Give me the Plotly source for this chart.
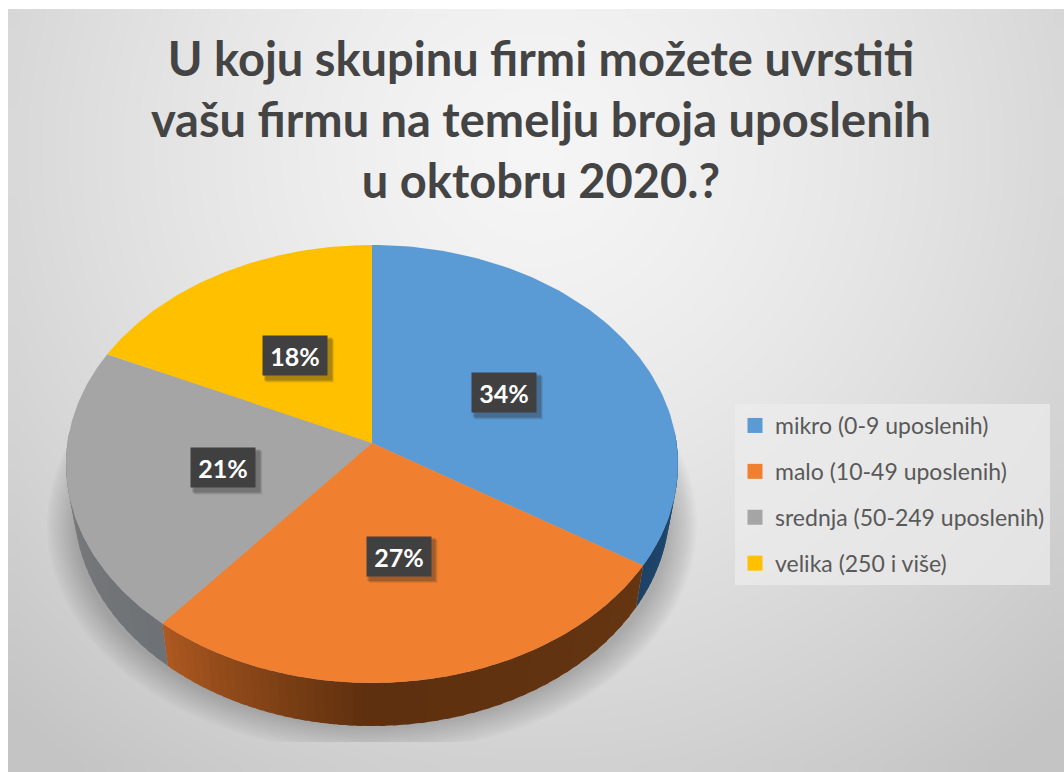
import numpy as np
import plotly.graph_objects as go

categories = ["mikro (0-9 uposlenih)", "malo (10-49 uposlenih)", "srednja (50-249 uposlenih)", "velika (250 i više)"]
shares = [34, 27, 21, 18]
title_lines = ["U koju skupinu firmi možete uvrstiti", "vašu firmu na temelju broja uposlenih", "u oktobru 2020.?"]

face_colors = ["#5b9bd5", "#f07f30", "#a5a5a5", "#ffc000"]
FONT = "Lato"

W, H = 1064, 772
CX, CY, RX, RY = 372, 464, 306, 219      # top face ellipse (pixels)
BX, BY, BRX, BRY = 372, 505, 298, 221    # bottom rim ellipse
A = -21 / 219                            # perspective shift of pie apex


def project(u, v):
    """Perspective map of the unit disc onto the top ellipse."""
    d = 1 + A * v
    return CX + RX * u * np.sqrt(1 - A * A) / d, CY + RY * (v + A) / d


fractions = np.cumsum([0] + shares) / sum(shares)
traces = []

# background gradient
nx, ny = 60, 50
gx = 8 + (W - 8) * (np.arange(nx) + 0.5) / nx
gy = 9 + (H - 9) * (np.arange(ny) + 0.5) / ny
GX, GY = np.meshgrid(gx, gy)
dist = np.minimum(1.2, np.sqrt(((GX - 536) / 640) ** 2 + ((GY - 150) / 640) ** 2))
traces.append(go.Heatmap(x=gx, y=gy, z=245 - 38 * dist ** 1.4, zmin=0, zmax=255, zsmooth="best",
                         colorscale=[[0, "#000000"], [1, "#ffffff"]], showscale=False, hoverinfo="skip"))

# soft shadow under the pie
phi = np.radians(np.linspace(0, 360, 181))
for grow in np.linspace(0, -28, 15):
    sx = 372 + (325 + grow) * np.cos(phi)
    sy = np.minimum(525 + (228 + grow) * np.sin(phi), 742)
    traces.append(go.Scatter(x=sx, y=sy, mode="lines", line=dict(width=0), fill="toself",
                             fillcolor="rgba(50,50,50,0.02)", hoverinfo="skip", showlegend=False))


# rim strips
def lerp(c0, c1, t):
    return "rgb(%d,%d,%d)" % tuple(a + (b - a) * t for a, b in zip(c0, c1))


def boundary_phi(f):
    t = 2 * np.pi * f
    x, y = project(np.sin(t), -np.cos(t))
    return np.arctan2((y - CY) / RY, (x - CX) / RX)


p1, p2 = boundary_phi(fractions[1]), boundary_phi(fractions[2])
segments = [
    (-0.15, p1, (32, 78, 120), (30, 66, 102)),
    (p1, np.pi / 2, (102, 54, 18), (94, 48, 15)),
    (np.pi / 2, p2, (94, 48, 15), (172, 88, 32)),
    (p2, np.pi + 0.15, (110, 114, 118), (125, 125, 125)),
]
for a, b, c0, c1 in segments:
    edges = np.linspace(a, b, 25)
    for i in range(24):
        end = edges[i + 1] + (0.02 if i < 23 else 0)
        t = np.linspace(edges[i], end, 6)
        xs = np.r_[CX + RX * np.cos(t), (BX + BRX * np.cos(t))[::-1]]
        ys = np.r_[CY + RY * np.sin(t), (BY + BRY * np.sin(t))[::-1]]
        traces.append(go.Scatter(x=xs, y=ys, mode="lines", line=dict(width=0), fill="toself",
                                 fillcolor=lerp(c0, c1, i / 23), hoverinfo="skip", showlegend=False))

# top faces
for i, name in enumerate(categories):
    t = 2 * np.pi * np.linspace(fractions[i], fractions[i + 1], 90)
    px, py = project(np.sin(t), -np.cos(t))
    traces.append(go.Scatter(x=np.r_[project(0, 0)[0], px], y=np.r_[project(0, 0)[1], py],
                             mode="lines", line=dict(width=0), fill="toself", fillcolor=face_colors[i],
                             name=name, text=f"{name}: {shares[i]}%", hoverinfo="text", showlegend=False))

# legend keys
for i, name in enumerate(categories):
    traces.append(go.Scatter(x=[None], y=[None], mode="markers", name=name, legendgroup=name,
                             marker=dict(symbol="square", size=15, color=face_colors[i])))

fig = go.Figure(traces)

# labels
shapes = [dict(type="line", x0=8, x1=W, y0=10, y1=10, line=dict(color="#c4c4c4", width=2), layer="below")]
annotations = []
for i, s in enumerate(shares):
    t = 2 * np.pi * (fractions[i] + fractions[i + 1]) / 2
    lx, ly = project(0.5 * np.sin(t), -0.5 * np.cos(t))
    lx, ly = lx + 1.5, ly + 1
    for off, alpha in [(6, 0.10), (5, 0.15), (4, 0.2)]:
        shapes.append(dict(type="rect", x0=lx - 33 + off - 2, x1=lx + 33 + off, y0=ly - 20.5 + off - 2, y1=ly + 20.5 + off,
                           line=dict(width=0), fillcolor=f"rgba(40,40,40,{alpha})", layer="above"))
    annotations.append(dict(x=lx, y=ly, xref="x", yref="y", text=f"<b>{s}%</b>", showarrow=False,
                            width=62, height=37, bgcolor="#404040", valign="middle",
                            font=dict(family=FONT, size=25, color="#ffffff")))

fig.update_layout(
    width=W, height=H, margin=dict(l=0, r=0, t=0, b=0), paper_bgcolor="#ffffff", plot_bgcolor="#ffffff",
    xaxis=dict(range=[0, W], visible=False, fixedrange=True),
    yaxis=dict(range=[H, 0], visible=False, fixedrange=True),
    title=dict(text="<b>" + "<br>".join(title_lines) + "</b>", x=541 / W, xanchor="center", y=1 - 76 / H, yanchor="top",
               font=dict(family=FONT, size=47, color="#444444")),
    legend=dict(x=735 / W, xanchor="left", y=1 - 404 / H, yanchor="top", bgcolor="rgba(236,236,236,0.7)",
                font=dict(family=FONT, size=23, color="#595959"), tracegroupgap=13, itemsizing="trace"),
    shapes=shapes, annotations=annotations,
)
fig.write_html("out.html", config=dict(displayModeBar=False), post_script="document.body.style.margin='0';")
